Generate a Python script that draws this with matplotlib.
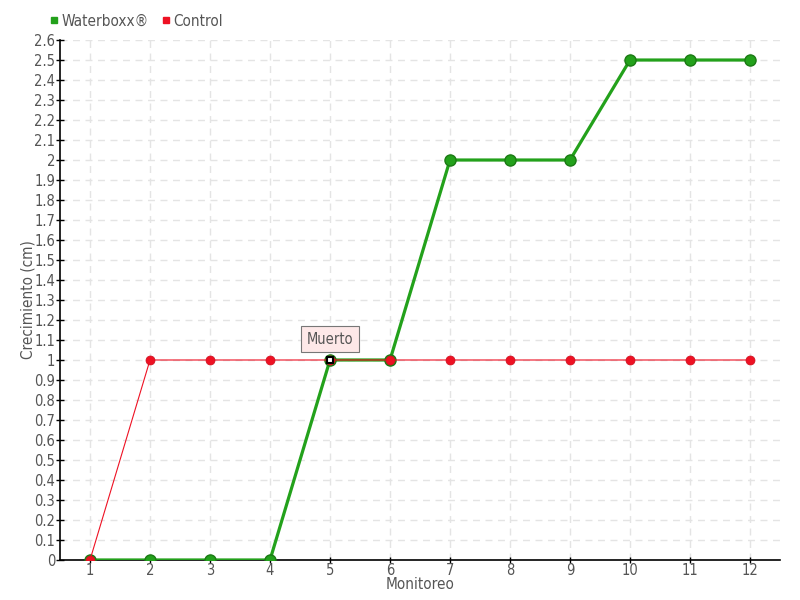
import numpy as np
import matplotlib.pyplot as plt
from matplotlib.lines import Line2D

monitoreo = [1, 2, 3, 4, 5, 6, 7, 8, 9, 10, 11, 12]
waterboxx = [0, 0, 0, 0, 1, 1, 2, 2, 2, 2.5, 2.5, 2.5]
control = [0, 1, 1, 1, 1, 1, 1, 1, 1, 1, 1, 1]
muerto_idx = 4  # Monitoreo 5
y_ticks = np.round(np.arange(0, 2.61, 0.1), 1)

green = "#23a11b"
green_edge = "#1b7a14"
red = "#ee1123"
text_col = "#555555"

plt.rcParams["font.family"] = ["DejaVu Sans"]
plt.rcParams["font.stretch"] = "condensed"

fig = plt.figure(figsize=(8, 6), dpi=100)
ax = fig.add_axes([0.075, 0.0667, 0.9, 0.8666])

ax.plot(monitoreo, waterboxx, color=green, lw=2.3, marker="o", ms=8,
        mfc=green, mec=green_edge, mew=1, zorder=3)
ax.plot(monitoreo, control, color=red, lw=0.8, marker="o", ms=6.5,
        mfc=red, mec="#cc1020", mew=0.5, zorder=4)
ax.plot(monitoreo[muerto_idx], waterboxx[muerto_idx], marker="s", ms=5,
        mfc="white", mec="black", mew=1.5, zorder=6)

ax.annotate("Muerto", xy=(monitoreo[muerto_idx], waterboxx[muerto_idx]),
            xytext=(0, 15), textcoords="offset points", ha="center",
            va="center", fontsize=10.5, color=text_col, zorder=7,
            bbox=dict(boxstyle="square,pad=0.4", fc="#fde8e8", ec="#777777", lw=0.8))

ax.set_xlim(0.5, 12.5)
ax.set_ylim(0, 2.6)
ax.set_xticks(monitoreo)
ax.set_yticks(y_ticks)
ax.set_yticklabels([f"{v:g}" for v in y_ticks])
ax.tick_params(axis="both", direction="inout", length=6, width=1,
               labelsize=10.5, labelcolor=text_col, pad=0.5)
ax.tick_params(axis="x", length=5, pad=0)
ax.grid(True, color="#e4e4e4", ls=(0, (5, 4)), lw=1)
ax.set_axisbelow(True)
for s in ["top", "right"]:
    ax.spines[s].set_visible(False)
ax.spines["left"].set_linewidth(1.2)
ax.spines["bottom"].set_linewidth(1.2)

ax.set_xlabel("Monitoreo", fontsize=11, color=text_col, labelpad=-1)
ax.set_ylabel("Crecimiento (cm)", fontsize=11, color=text_col)
ax.yaxis.set_label_coords(-0.034, 0.5)

handles = [Line2D([], [], ls="none", marker="s", ms=5, color=green),
           Line2D([], [], ls="none", marker="s", ms=5, color=red)]
fig.legend(handles, ["Waterboxx®", "Control"], loc="upper left",
           bbox_to_anchor=(0.045, 1.0), ncol=2, frameon=False,
           fontsize=11, labelcolor=text_col, handlelength=0.6,
           handletextpad=0.2, columnspacing=0.8)

fig.savefig("out.png", dpi=100)
